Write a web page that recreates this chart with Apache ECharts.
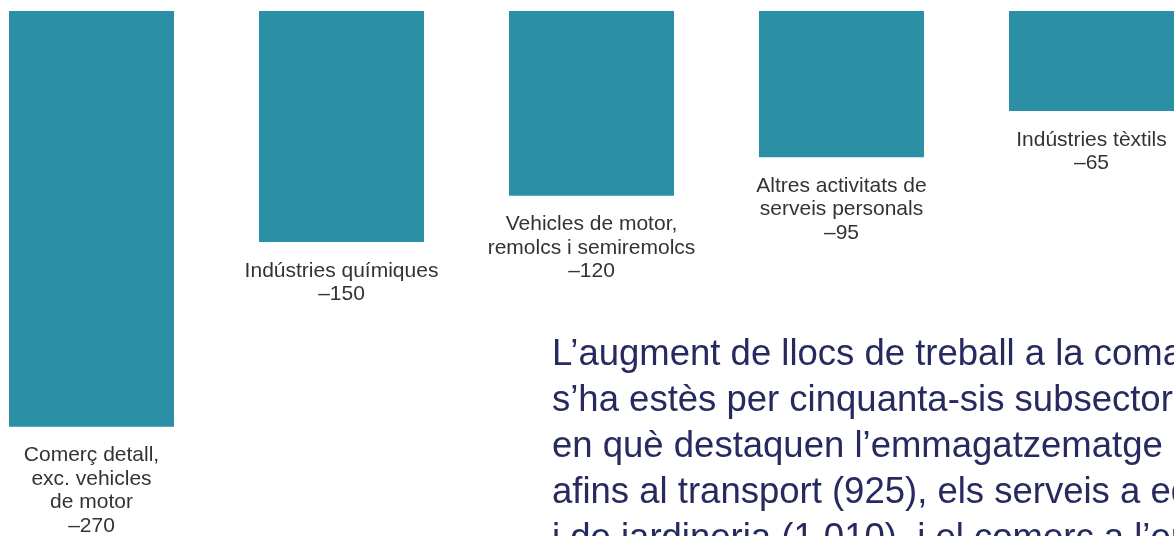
<!DOCTYPE html>
<html>
<head>
<meta charset="utf-8">
<script src="https://cdn.jsdelivr.net/npm/echarts@6/dist/echarts.min.js"></script>
<style>
  html, body { margin: 0; padding: 0; background: #fff; }
  #chart { width: 1174px; height: 536px; }
</style>
</head>
<body>
<div id="chart"></div>
<script>
const categories = [
  "Comerç detall,\nexc. vehicles\nde motor",
  "Indústries químiques",
  "Vehicles de motor,\nremolcs i semiremolcs",
  "Altres activitats de\nserveis personals",
  "Indústries tèxtils"
];
const jobChange = [-270, -150, -120, -95, -65];

const textLines = [
  "L’augment de llocs de treball a la comarca",
  "s’ha estès per cinquanta-sis subsectors,",
  "en què destaquen l’emmagatzematge i activitats",
  "afins al transport (925), els serveis a edificis",
  "i de jardineria (1.010), i el comerç a l’engròs"
];

const chart = echarts.init(document.getElementById("chart"));

const option = {
  animation: false,
  grid: {
    left: -33.5,
    width: 1250,
    top: 11,
    height: 462,
    outerBoundsMode: "none",
    containLabel: false
  },
  xAxis: {
    type: "category",
    data: categories,
    show: false
  },
  yAxis: {
    type: "value",
    min: -300,
    max: 0,
    show: false
  },
  series: [
    {
      type: "bar",
      data: jobChange,
      barWidth: 165,
      itemStyle: { color: "#2b90a6" },
      label: {
        show: true,
        position: "bottom",
        distance: 17,
        color: "#333333",
        fontFamily: "Liberation Sans",
        fontSize: 21,
        lineHeight: 23.5,
        align: "center",
        formatter: p => p.name + "\n" + String(p.value).replace("-", "–")
      }
    }
  ],
  graphic: [
    {
      type: "text",
      left: 552,
      top: 332,
      style: {
        text: textLines.join("\n"),
        fill: "#272a5f",
        font: "36.5px 'Liberation Sans'",
        lineHeight: 46
      }
    }
  ]
};

chart.setOption(option);
</script>
</body>
</html>
